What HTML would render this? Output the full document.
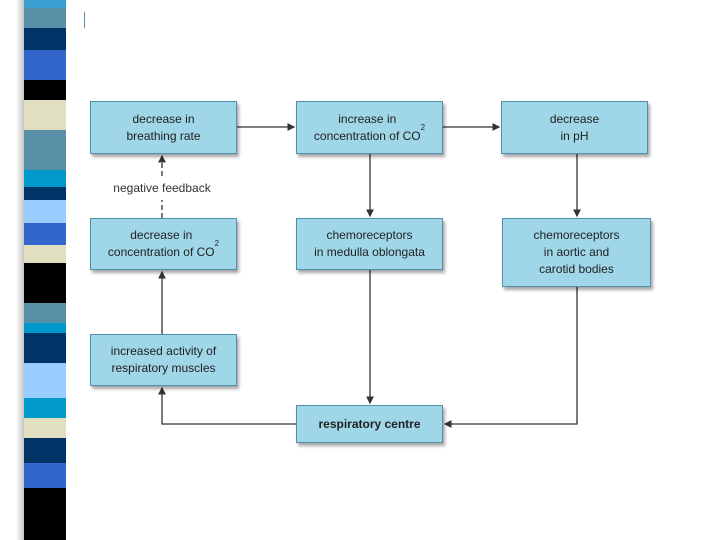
<!DOCTYPE html>
<html><head><style>
body{margin:0;width:720px;height:540px;position:relative;background:#fff;overflow:hidden;font-family:"Liberation Sans",sans-serif}
.s{position:absolute;left:24px;width:42px}
.b{position:absolute;background:#9fd6e8;border:1.5px solid #4f8fae;box-shadow:2px 3px 3px rgba(0,0,0,.35);box-sizing:border-box;display:flex;align-items:center;justify-content:center;text-align:center;font-size:12px;line-height:17px;color:#222}
</style></head><body>
<div style="position:absolute;left:16px;top:0;width:14px;height:540px;background:linear-gradient(90deg,#fff,#999)"></div>
<div class="s" style="top:0;height:8px;background:#3a9fd0"></div>
<div class="s" style="top:8px;height:20px;background:#5a8fa8"></div>
<div class="s" style="top:28px;height:22px;background:#003366"></div>
<div class="s" style="top:50px;height:30px;background:#3366cc"></div>
<div class="s" style="top:80px;height:20px;background:#000"></div>
<div class="s" style="top:100px;height:30px;background:#e0e0c0"></div>
<div class="s" style="top:130px;height:40px;background:#5a8fa8"></div>
<div class="s" style="top:170px;height:17px;background:#0099cc"></div>
<div class="s" style="top:187px;height:13px;background:#003366"></div>
<div class="s" style="top:200px;height:23px;background:#99ccff"></div>
<div class="s" style="top:223px;height:22px;background:#3366cc"></div>
<div class="s" style="top:245px;height:18px;background:#e0e0c0"></div>
<div class="s" style="top:263px;height:40px;background:#000"></div>
<div class="s" style="top:303px;height:20px;background:#5a8fa8"></div>
<div class="s" style="top:323px;height:10px;background:#0099cc"></div>
<div class="s" style="top:333px;height:30px;background:#003366"></div>
<div class="s" style="top:363px;height:35px;background:#99ccff"></div>
<div class="s" style="top:398px;height:20px;background:#0099cc"></div>
<div class="s" style="top:418px;height:20px;background:#e0e0c0"></div>
<div class="s" style="top:438px;height:25px;background:#003366"></div>
<div class="s" style="top:463px;height:25px;background:#3366cc"></div>
<div class="s" style="top:488px;height:52px;background:#000"></div>
<div style="position:absolute;left:84px;top:12px;width:1px;height:16px;background:#5a8fa8"></div>
<svg style="position:absolute;left:0;top:0" width="720" height="540">
<defs><marker id="a" markerWidth="6" markerHeight="6" refX="5" refY="3" orient="auto"><path d="M0,0L6,3L0,6z" fill="#333"/></marker></defs>
<g stroke="#333" stroke-width="1.3" fill="none">
<line x1="237" y1="127" x2="294" y2="127" marker-end="url(#a)"/>
<line x1="443" y1="127" x2="499" y2="127" marker-end="url(#a)"/>
<line x1="370" y1="154" x2="370" y2="216" marker-end="url(#a)"/>
<line x1="577" y1="154" x2="577" y2="216" marker-end="url(#a)"/>
<line x1="370" y1="270" x2="370" y2="403" marker-end="url(#a)"/>
<polyline points="577,287 577,424 445,424" marker-end="url(#a)"/>
<polyline points="296,424 162,424 162,388" marker-end="url(#a)"/>
<line x1="162" y1="334" x2="162" y2="272" marker-end="url(#a)"/>
<line x1="162" y1="218" x2="162" y2="200" stroke-dasharray="5,3"/>
<line x1="162" y1="176" x2="162" y2="156" stroke-dasharray="5,3" marker-end="url(#a)"/>
</g>
<text x="162" y="192" text-anchor="middle" font-family="Liberation Sans" font-size="12" fill="#333">negative feedback</text>
</svg>
<div class="b" style="left:90px;top:101px;width:147px;height:53px">decrease in<br>breathing rate</div>
<div class="b" style="left:296px;top:101px;width:147px;height:53px">increase in<br>concentration of CO<sub style="font-size:8px;line-height:0">2</sub></div>
<div class="b" style="left:501px;top:101px;width:147px;height:53px">decrease<br>in pH</div>
<div class="b" style="left:90px;top:218px;width:147px;height:52px">decrease in<br>concentration of CO<sub style="font-size:8px;line-height:0">2</sub></div>
<div class="b" style="left:296px;top:218px;width:147px;height:52px">chemoreceptors<br>in medulla oblongata</div>
<div class="b" style="left:502px;top:218px;width:149px;height:69px">chemoreceptors<br>in aortic and<br>carotid bodies</div>
<div class="b" style="left:90px;top:334px;width:147px;height:52px">increased activity of<br>respiratory muscles</div>
<div class="b" style="left:296px;top:405px;width:147px;height:38px;font-weight:bold">respiratory centre</div>
</body></html>
